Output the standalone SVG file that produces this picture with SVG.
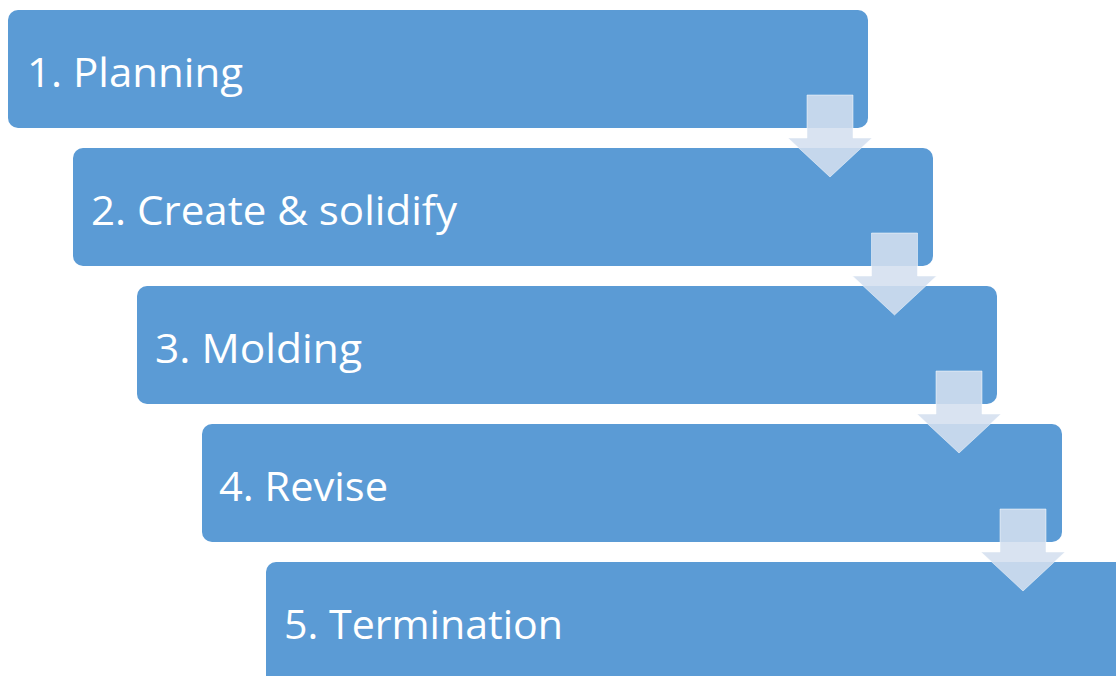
<svg xmlns="http://www.w3.org/2000/svg" width="1116" height="676" viewBox="0 0 1116 676">
  <defs>
    <style>
      .step { fill: #5b9bd5; }
      .label { fill: #ffffff; font-family: "Open Sans", "Liberation Sans", sans-serif; font-size: 41px; }
      .arrow { fill: #d4dfef; fill-opacity: 0.88; stroke: #ffffff; stroke-opacity: 0.5; stroke-width: 1; }
    </style>
    <!-- down arrow, origin at the top centre of the shaft -->
    <path id="down" d="M -23 0 H 23 V 43 H 42 L 0 82 L -42 43 H -23 Z"/>
  </defs>

  <g id="step1">
    <rect class="step" x="8" y="10" width="860" height="118" rx="10"/>
    <text class="label" x="27" y="87" textLength="216" lengthAdjust="spacingAndGlyphs">1. Planning</text>
  </g>
  <g id="step2">
    <rect class="step" x="73" y="148" width="860" height="118" rx="10"/>
    <text class="label" x="91" y="225" textLength="366" lengthAdjust="spacingAndGlyphs">2. Create &amp; solidify</text>
  </g>
  <g id="step3">
    <rect class="step" x="137" y="286" width="860" height="118" rx="10"/>
    <text class="label" x="155" y="363" textLength="207" lengthAdjust="spacingAndGlyphs">3. Molding</text>
  </g>
  <g id="step4">
    <rect class="step" x="202" y="424" width="860" height="118" rx="10"/>
    <text class="label" x="219" y="501" textLength="169" lengthAdjust="spacingAndGlyphs">4. Revise</text>
  </g>
  <g id="step5">
    <rect class="step" x="266" y="562" width="870" height="130" rx="10"/>
    <text class="label" x="284" y="639" textLength="279" lengthAdjust="spacingAndGlyphs">5. Termination</text>
  </g>

  <g id="connectors">
    <use class="arrow" href="#down" x="830" y="95"/>
    <use class="arrow" href="#down" x="894.5" y="233"/>
    <use class="arrow" href="#down" x="959" y="371"/>
    <use class="arrow" href="#down" x="1023" y="509"/>
  </g>
</svg>
